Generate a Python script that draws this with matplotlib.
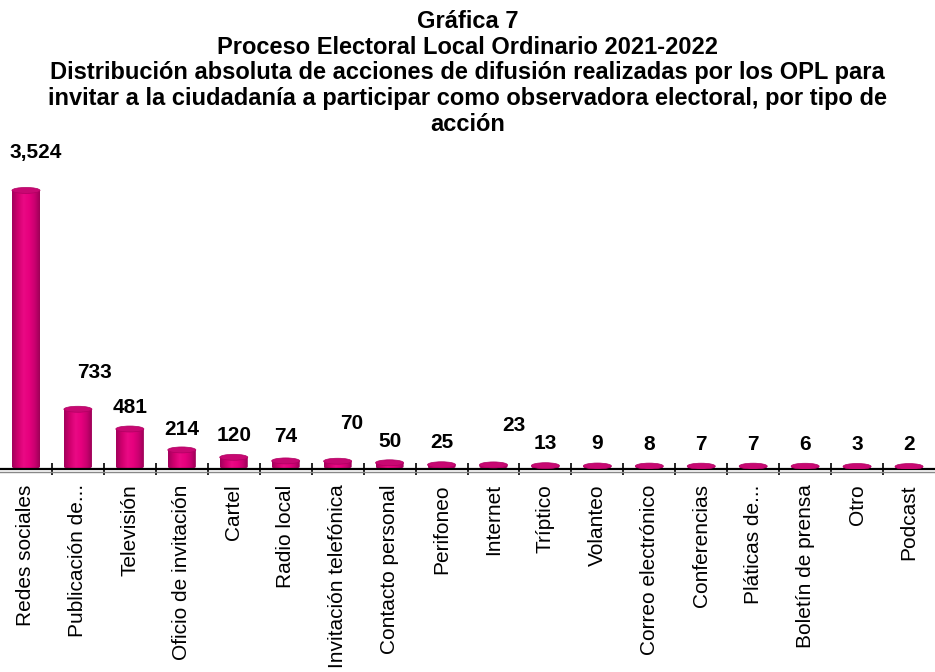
import numpy as np
import matplotlib
matplotlib.use('Agg')
import matplotlib.pyplot as plt
from matplotlib.patches import Polygon, Ellipse
from matplotlib.colors import LinearSegmentedColormap
from matplotlib.lines import Line2D

plt.rcParams['font.family'] = ['Liberation Sans', 'DejaVu Sans']

# Data
categories = ['Redes sociales', 'Publicación de...', 'Televisión', 'Oficio de invitación',
              'Cartel', 'Radio local', 'Invitación telefónica', 'Contacto personal',
              'Perifoneo', 'Internet', 'Tríptico', 'Volanteo', 'Correo electrónico',
              'Conferencias', 'Pláticas de...', 'Boletín de prensa', 'Otro', 'Podcast']
values = [3524, 733, 481, 214, 120, 74, 70, 50, 25, 23, 13, 9, 8, 7, 7, 6, 3, 2]

title = ('Gráfica 7\n'
         'Proceso Electoral Local Ordinario 2021-2022\n'
         'Distribución absoluta de acciones de difusión realizadas por los OPL para\n'
         'invitar a la ciudadanía a participar como observadora electoral, por tipo de\n'
         'acción')

# label offsets in pixels (dx, dy) from the top of each bar
label_dx = [10, 17, 0, 0, 0, 0, 14, 0, 0, 20, 0, 0, 0, 0, 0, 0, 0, 0]
label_dy = [38, 37, 21, 20, 22, 24, 38, 21, 22, 39, 22, 22, 22, 22, 22, 22, 22, 22]

fig = plt.figure(figsize=(9.35, 6.72), dpi=100)
ax = fig.add_axes([0, 0.302, 1, 0.49])

ymin, ymax = -30, 4170
bar_w = 0.54
eh = 38  # half height of the ellipses, data units

cmap = LinearSegmentedColormap.from_list(
    'cyl', ['#a3005c', '#d0006f', '#ea0a84', '#e6007e', '#c8006f', '#950052'])
grad = np.linspace(0, 1, 64).reshape(1, -1)

x = np.arange(len(values))
for i, v in enumerate(values):
    x0, x1 = i - bar_w / 2, i + bar_w / 2
    t = np.linspace(np.pi, 2 * np.pi, 40)
    bottom = np.column_stack([i + bar_w / 2 * np.cos(t), eh * np.sin(t)])
    pts = np.vstack([[x0, v], bottom, [x1, v]])
    body = Polygon(pts, closed=True, facecolor='none', edgecolor='none')
    ax.add_patch(body)
    im = ax.imshow(grad, cmap=cmap, extent=[x0, x1, -eh, v], aspect='auto',
                   origin='lower', zorder=2)
    im.set_clip_path(body)
    ax.add_patch(Ellipse((i, v), bar_w, 2 * eh, facecolor='#c80872',
                         edgecolor='#b00062', lw=0.5, zorder=3))
    ax.annotate(f'{v:,}', (i, v), xytext=(label_dx[i], label_dy[i]),
                textcoords='offset pixels', ha='center', va='center',
                fontsize=15, fontweight='bold', color='black')

ax.set_xlim(-0.5, len(values) - 0.5)
ax.set_ylim(ymin, ymax)

for s in ['top', 'right', 'left']:
    ax.spines[s].set_visible(False)
ax.spines['bottom'].set_linewidth(1.6)
ax.spines['bottom'].set_color('black')
ax.set_yticks([])

ax.set_xticks(x)
ax.set_xticklabels(categories, rotation=90, fontsize=15, va='top', ha='center')
ax.tick_params(axis='x', length=0, pad=11)
ax.set_xticks(x[:-1] + 0.5, minor=True)
ax.tick_params(axis='x', which='minor', direction='inout', length=9, width=1.2)

# thin grey line under the axis
fig.add_artist(Line2D([0, 1], [0.297, 0.297], transform=fig.transFigure,
                      color='#888888', lw=1))

fig.text(0.5, 0.985, title, ha='center', va='top', fontsize=17,
         fontweight='bold', linespacing=1.15)

fig.savefig('out.png', dpi=100)
